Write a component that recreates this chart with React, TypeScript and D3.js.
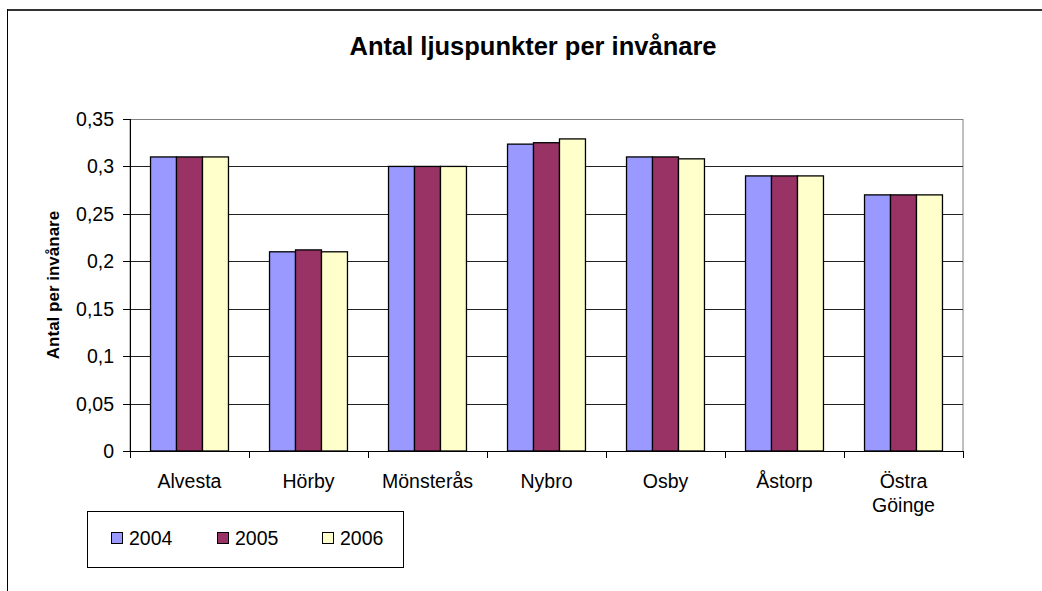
import React from "react";
import * as d3 from "d3";

const categories = ["Alvesta", "Hörby", "Mönsterås", "Nybro", "Osby", "Åstorp", "Östra Göinge"];
const series = ["2004", "2005", "2006"];
const values2004 = [0.31, 0.21, 0.3, 0.3235, 0.31, 0.29, 0.27];
const values2005 = [0.31, 0.212, 0.3, 0.325, 0.31, 0.29, 0.27];
const values2006 = [0.31, 0.21, 0.3, 0.329, 0.308, 0.29, 0.27];
const yTicks = [0, 0.05, 0.1, 0.15, 0.2, 0.25, 0.3, 0.35];
const colors = ["#9999FF", "#993366", "#FFFFCC"];

const W = 1042;
const H = 591;
const plot = { left: 130, right: 963, top: 119, bottom: 451 };
const FONT = "Arial, 'Liberation Sans', sans-serif";

export default function App() {
  const allValues = [values2004, values2005, values2006];
  const x0 = d3.scaleBand<string>().domain(categories).range([plot.left, plot.right]).padding(0);
  const x1 = d3
    .scaleBand<string>()
    .domain(series)
    .range([0, x0.bandwidth()])
    .paddingInner(0)
    .paddingOuter(0.79);
  const y = d3.scaleLinear().domain([0, 0.35]).range([plot.bottom, plot.top]);
  const fmt = (v: number) => String(+v.toFixed(2)).replace(".", ",");

  const boundaries = [...categories.map((c) => x0(c)!), plot.right];

  return (
    <svg
      width={W}
      height={H}
      style={{ position: "absolute", left: 0, top: 0, background: "#fff" }}
      fontFamily={FONT}
    >
      {/* outer chart border */}
      <line x1={7} y1={10} x2={W} y2={10} stroke="#333" strokeWidth={2} />
      <line x1={7.5} y1={9} x2={7.5} y2={H} stroke="#000" strokeWidth={1} />

      {/* title */}
      <text x={533} y={55} textAnchor="middle" fontSize={25.5} fontWeight="bold" fill="#000">
        Antal ljuspunkter per invånare
      </text>

      {/* y title */}
      <text
        transform={`translate(59,${(plot.top + plot.bottom) / 2}) rotate(-90)`}
        textAnchor="middle"
        fontSize={17}
        fontWeight="bold"
        fill="#000"
      >
        Antal per invånare
      </text>

      {/* plot border */}
      <rect
        x={plot.left}
        y={plot.top + 0.5}
        width={plot.right - plot.left}
        height={plot.bottom - plot.top}
        fill="none"
        stroke="#808080"
        strokeWidth={1}
      />

      {/* gridlines */}
      {yTicks
        .filter((t) => t > 0 && t < 0.35)
        .map((t) => (
          <line
            key={"g" + t}
            x1={plot.left}
            x2={plot.right}
            y1={Math.round(y(t)) + 0.5}
            y2={Math.round(y(t)) + 0.5}
            stroke="#222"
            strokeWidth={1}
          />
        ))}

      {/* bars */}
      {categories.map((c, i) => (
        <g key={c}>
          {series.map((s, j) => {
            const v = allValues[j][i];
            const bx = x0(c)! + x1(s)!;
            return (
              <rect
                key={s}
                x={bx}
                y={y(v)}
                width={x1.bandwidth()}
                height={plot.bottom - y(v)}
                fill={colors[j]}
                stroke="#000"
                strokeWidth={1.3}
              />
            );
          })}
        </g>
      ))}

      {/* y axis */}
      <line x1={plot.left + 0.5} x2={plot.left + 0.5} y1={plot.top} y2={plot.bottom} stroke="#000" />
      {yTicks.map((t) => (
        <g key={"t" + t}>
          <line
            x1={plot.left - 7}
            x2={plot.left}
            y1={Math.round(y(t)) + 0.5}
            y2={Math.round(y(t)) + 0.5}
            stroke="#000"
          />
          <text x={plot.left - 16} y={y(t) + 7} textAnchor="end" fontSize={19.5} fill="#000">
            {fmt(t)}
          </text>
        </g>
      ))}

      {/* x axis */}
      <line x1={plot.left} x2={plot.right} y1={plot.bottom + 0.5} y2={plot.bottom + 0.5} stroke="#000" />
      {boundaries.map((bx, i) => (
        <line key={"xt" + i} x1={bx + 0.5} x2={bx + 0.5} y1={plot.bottom} y2={plot.bottom + 7} stroke="#000" />
      ))}
      {categories.map((c) => {
        const cx = x0(c)! + x0.bandwidth() / 2;
        const parts = c === "Östra Göinge" ? ["Östra", "Göinge"] : [c];
        return (
          <text key={"l" + c} x={cx} y={488} textAnchor="middle" fontSize={19.5} fill="#000">
            {parts.map((p, k) => (
              <tspan key={k} x={cx} dy={k === 0 ? 0 : 24}>
                {p}
              </tspan>
            ))}
          </text>
        );
      })}

      {/* legend */}
      <rect x={87.5} y={511.5} width={316} height={56} fill="#fff" stroke="#000" strokeWidth={1} />
      {series.map((s, j) => {
        const lx = [111, 217, 322][j];
        return (
          <g key={"lg" + s}>
            <rect x={lx + 0.5} y={532.5} width={11} height={11} fill={colors[j]} stroke="#000" strokeWidth={1} />
            <text x={lx + 18} y={545} fontSize={19.5} fill="#000">
              {s}
            </text>
          </g>
        );
      })}
    </svg>
  );
}
